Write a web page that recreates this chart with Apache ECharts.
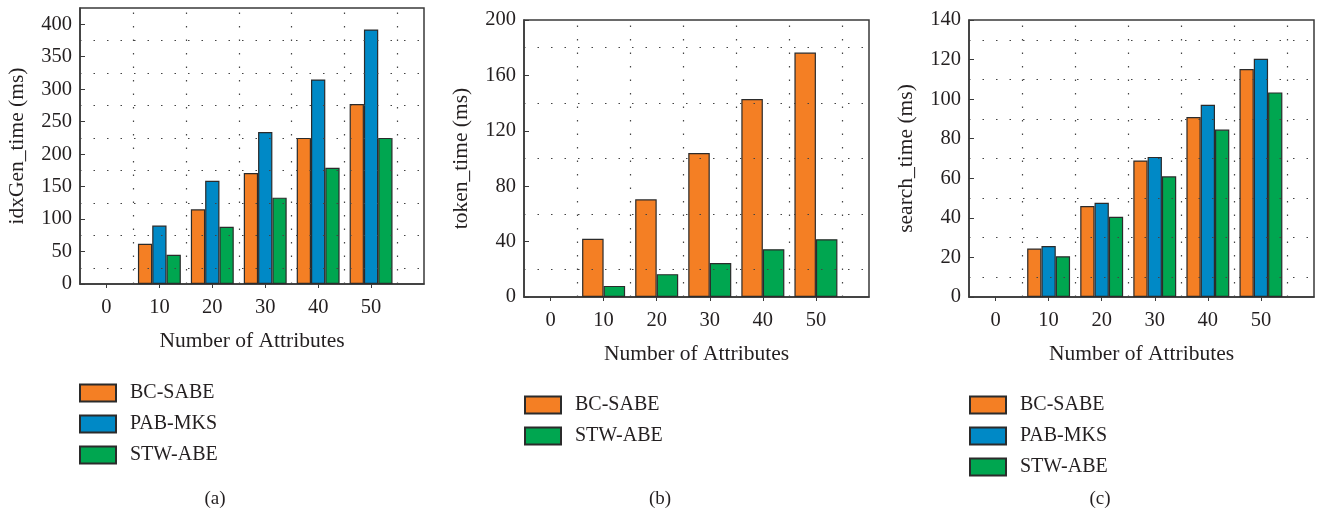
<!DOCTYPE html>
<html>
<head>
<meta charset="utf-8">
<script src="https://cdn.jsdelivr.net/npm/echarts@6/dist/echarts.min.js"></script>
<style>
  html, body { margin: 0; padding: 0; background: #fff; }
  #chart { width: 1320px; height: 515px; }
</style>
</head>
<body>
<div id="chart"></div>
<script>
// attribute counts on the x axis
var attrTicks = [0, 10, 20, 30, 40, 50];
var attrCounts = [10, 20, 30, 40, 50];

// (a) idxGen_time (ms)
var idxBC = [62, 115, 171, 225, 277];
var idxPAB = [90, 159, 234, 315, 392];
var idxSTW = [45, 88, 133, 179, 225];

// (b) token_time (ms)
var tokBC = [42, 70.5, 104, 143, 176.5];
var tokSTW = [8, 16.5, 24.5, 34.5, 41.7];

// (c) search_time (ms)
var srchBC = [24.5, 46, 69, 91, 115.2];
var srchPAB = [25.8, 47.6, 70.8, 97.2, 120.4];
var srchSTW = [20.6, 40.5, 61, 84.6, 103.4];

// dotted grid positions
var dotX = [5, 15, 25, 35, 45, 55];
var dotYa = [25, 75, 125, 175, 225, 275, 325, 375];
var dotYb = [20, 60, 100, 140, 180];
var dotYc = [10, 30, 50, 70, 90, 110, 130];

var FONT = 'Liberation Serif';
var TXT = '#231f20';
var EDGE = '#3a3a3a';
var colors = {'BC-SABE': '#f47f24', 'PAB-MKS': '#0089c6', 'STW-ABE': '#00a650'};

function pairs(vals) {
    return attrCounts.map(function (x, i) { return [x, vals[i]]; });
}

function xAxisFor(idx) {
    return {
        type: 'value', gridIndex: idx, min: -5, max: 60,
        name: 'Number of Attributes', nameLocation: 'middle', nameGap: 46,
        nameTextStyle: {fontFamily: FONT, fontSize: 21.5, color: TXT},
        axisLine: {show: true, onZero: false, lineStyle: {color: EDGE, width: 1.5}},
        axisTick: {show: true, length: 4, customValues: attrTicks, lineStyle: {color: EDGE}},
        axisLabel: {customValues: attrTicks, margin: 13, fontFamily: FONT, fontSize: 20.5, color: TXT},
        splitLine: {show: false}
    };
}

function yAxisFor(idx, name, max, interval) {
    return {
        type: 'value', gridIndex: idx, min: 0, max: max, interval: interval,
        name: name, nameLocation: 'middle', nameGap: 52,
        nameTextStyle: {fontFamily: FONT, fontSize: 21.5, color: TXT},
        axisLine: {show: true, onZero: false, lineStyle: {color: EDGE, width: 1.5}},
        axisTick: {show: true, inside: true, length: 5, lineStyle: {color: EDGE}},
        axisLabel: {margin: 8, fontFamily: FONT, fontSize: 20.5, color: TXT, showMaxLabel: max % interval === 0},
        splitLine: {show: false}
    };
}

function barSeries(name, idx, vals, width) {
    return {
        name: name, type: 'bar', xAxisIndex: idx, yAxisIndex: idx,
        data: pairs(vals), barWidth: width, barGap: '0%', z: 2,
        itemStyle: {color: colors[name], borderColor: '#2b2b2b', borderWidth: 1.2},
        animation: false
    };
}

function dotSeries(idx, ys) {
    var lines = dotX.map(function (v) { return {xAxis: v}; })
        .concat(ys.map(function (v) { return {yAxis: v}; }));
    return {
        type: 'line', xAxisIndex: idx, yAxisIndex: idx, data: [], z: 1,
        silent: true, animation: false,
        markLine: {
            silent: true, symbol: ['none', 'none'], animation: false,
            label: {show: false},
            lineStyle: {type: [1.5, 12], color: '#444', width: 1.2},
            data: lines
        }
    };
}

function legendFor(names, left, top) {
    return {
        data: names, orient: 'vertical', left: left, top: top, padding: 0,
        icon: 'rect', itemWidth: 36, itemHeight: 17, itemGap: 11, selectedMode: false,
        textStyle: {fontFamily: FONT, fontSize: 20, color: TXT, padding: [0, 0, 0, 9]}
    };
}

function caption(text, x) {
    return {type: 'text', x: x, y: 499, style: {text: text, fontFamily: FONT, fontSize: 19, fill: TXT, textAlign: 'center', textVerticalAlign: 'middle'}};
}

var chart = echarts.init(document.getElementById('chart'));
chart.setOption({
    animation: false,
    grid: [
        {left: 80, top: 8, width: 344, height: 276, show: true, borderColor: EDGE, borderWidth: 1.5},
        {left: 524, top: 20, width: 345, height: 277, show: true, borderColor: EDGE, borderWidth: 1.5},
        {left: 969, top: 20, width: 345, height: 277, show: true, borderColor: EDGE, borderWidth: 1.5}
    ],
    xAxis: [xAxisFor(0), xAxisFor(1), xAxisFor(2)],
    yAxis: [
        yAxisFor(0, 'idxGen_time (ms)', 425, 50),
        yAxisFor(1, 'token_time (ms)', 200, 40),
        yAxisFor(2, 'search_time (ms)', 140, 20)
    ],
    legend: [
        legendFor(['BC-SABE', 'PAB-MKS', 'STW-ABE'], 79, 383),
        legendFor(['BC-SABE', 'STW-ABE'], 524, 395),
        legendFor(['BC-SABE', 'PAB-MKS', 'STW-ABE'], 969, 395)
    ],
    graphic: [caption('(a)', 215), caption('(b)', 660), caption('(c)', 1100)],
    series: [
        dotSeries(0, dotYa), dotSeries(1, dotYb), dotSeries(2, dotYc),
        barSeries('BC-SABE', 0, idxBC, 14.3),
        barSeries('PAB-MKS', 0, idxPAB, 14.3),
        barSeries('STW-ABE', 0, idxSTW, 14.3),
        barSeries('BC-SABE', 1, tokBC, 21.5),
        barSeries('STW-ABE', 1, tokSTW, 21.5),
        barSeries('BC-SABE', 2, srchBC, 14.3),
        barSeries('PAB-MKS', 2, srchPAB, 14.3),
        barSeries('STW-ABE', 2, srchSTW, 14.3)
    ]
});
</script>
</body>
</html>
